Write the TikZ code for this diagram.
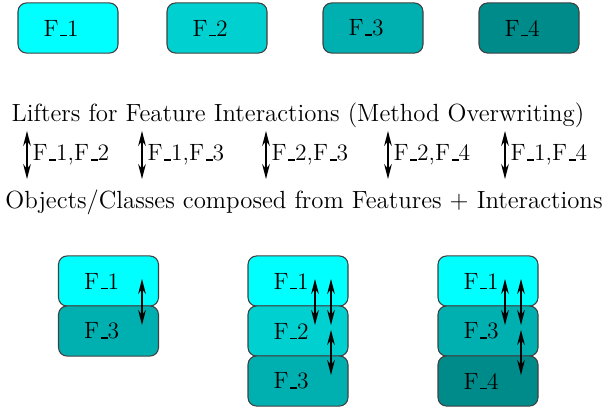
\documentclass[tikz,border=0pt]{standalone}
\usetikzlibrary{arrows.meta}

\definecolor{featA}{RGB}{0,255,255}
\definecolor{featB}{RGB}{0,208,208}
\definecolor{featC}{RGB}{0,176,176}
\definecolor{featD}{RGB}{0,139,139}

% short underscore, as in OT1 fonts
\newcommand{\us}{\kern.06em\vbox{\hrule width.3em height.7pt}}

\tikzset{
  feat/.style={draw=black!75, line width=0.5pt, rounded corners=4pt,
    minimum width=46.7pt, minimum height=23.4pt,
    text width=22.7pt, inner xsep=12pt, align=left},
  caption/.style={font=\fontsize{11.6}{14}\selectfont},
  lift/.style={>={Stealth[length=7pt,width=3.6pt]}, <->, line width=0.6pt}
}

\begin{document}
\begin{tikzpicture}[x=0.467pt,y=-0.467pt,font=\fontsize{11}{13}\selectfont]
            \useasboundingbox (0,0) rectangle (615,409);
            % features
            \node[feat,fill=featA] (f1) at (68,28) {F\us1};
            \node[feat,fill=featB] (f2) at (217,28) {F\us2};
            \node[feat,fill=featC] (f3) at (373,28) {F\us3};
            \node[feat,fill=featD] (f4) at (529,28) {F\us4};
            \node[caption] (lifters) at (298,115) {Lifters for Feature Interactions (Method Overwriting)};
            % lifters
            \coordinate (u1) at (27,131); \coordinate (d1) at (27,179);
            \coordinate (u2) at (142,131); \coordinate (d2) at (142,179);
            \coordinate (u3) at (266,131); \coordinate (d3) at (266,179);
            \coordinate (u4) at (388,131); \coordinate (d4) at (388,179);
            \coordinate (u5) at (505,131); \coordinate (d5) at (505,179);
            \draw[lift] (u1) -- (d1);
            \draw[lift] (u2) -- (d2);
            \draw[lift] (u3) -- (d3);
            \draw[lift] (u4) -- (d4);
            \draw[lift] (u5) -- (d5);
            \node[anchor=west,inner xsep=1pt] (l1) at (30,155) {F\us1,F\us2};
            \node[anchor=west,inner xsep=1pt] (l2) at (145,155) {F\us1,F\us3};
            \node[anchor=west,inner xsep=1pt] (l3) at (269,155) {F\us2,F\us3};
            \node[anchor=west,inner xsep=1pt] (l4) at (391,155) {F\us2,F\us4};
            \node[anchor=west,inner xsep=1pt] (l5) at (508,155) {F\us1,F\us4};
            \node[caption] (objects) at (304,202) {Objects/Classes composed from Features + Interactions};
            % object 1
            \node[feat,fill=featA] (o1a) at (108.5,281) {F\us1};
            \node[feat,fill=featC] (o1b) at (108.5,331) {F\us3};
            \coordinate (o1u) at (142,279); \coordinate (o1d) at (142,325);
            \draw[lift] (o1u) -- (o1d);
            % object 2
            \node[feat,fill=featA] (o2a) at (298,281) {F\us1};
            \node[feat,fill=featB] (o2b) at (298,331) {F\us2};
            \node[feat,fill=featC] (o2c) at (298,381) {F\us3};
            \coordinate (o2u) at (315,279); \coordinate (o2d) at (315,325);
            \coordinate (o2v) at (331,279); \coordinate (o2e) at (331,325);
            \coordinate (o2w) at (331,330); \coordinate (o2f) at (331,375);
            \draw[lift] (o2u) -- (o2d);
            \draw[lift] (o2v) -- (o2e);
            \draw[lift] (o2w) -- (o2f);
            % object 3
            \node[feat,fill=featA] (o3a) at (488,281) {F\us1};
            \node[feat,fill=featC] (o3b) at (488,331) {F\us3};
            \node[feat,fill=featD] (o3c) at (488,381) {F\us4};
            \coordinate (o3u) at (505,279); \coordinate (o3d) at (505,325);
            \coordinate (o3v) at (521,279); \coordinate (o3e) at (521,325);
            \coordinate (o3w) at (521,330); \coordinate (o3f) at (521,375);
            \draw[lift] (o3u) -- (o3d);
            \draw[lift] (o3v) -- (o3e);
            \draw[lift] (o3w) -- (o3f);
        \end{tikzpicture}
\end{document}
